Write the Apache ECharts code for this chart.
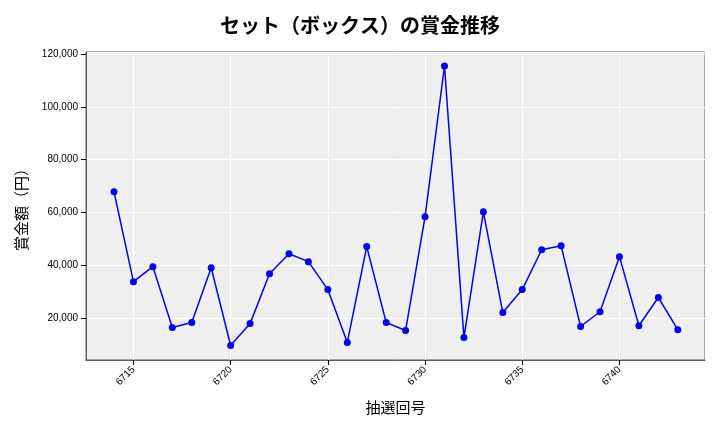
<!DOCTYPE html>
<html><head><meta charset="utf-8">
<script src="https://cdn.jsdelivr.net/npm/echarts@6/dist/echarts.min.js"></script>
<style>html,body{margin:0;padding:0;background:#fff}#c{width:720px;height:432px}</style>
</head><body><div id="c"></div>
<script>
const draws = [6714,6715,6716,6717,6718,6719,6720,6721,6722,6723,6724,6725,6726,6727,6728,6729,6730,6731,6732,6733,6734,6735,6736,6737,6738,6739,6740,6741,6742,6743];
const prizes = [67800,33700,39400,16300,18200,39000,9500,17800,36700,44300,41300,30700,10600,47000,18200,15200,58300,115500,12500,60200,22000,30700,45800,47300,16700,22300,43200,17000,27700,15500];
const chart = echarts.init(document.getElementById('c'));
const font = "'Noto Sans CJK JP', sans-serif";
chart.setOption({
  animation:false,
  title:{text:'セット（ボックス）の賞金推移',left:'center',top:10,textStyle:{fontFamily:font,fontSize:20,fontWeight:'bold',color:'#000'}},
  grid:{left:86,right:15,top:52,bottom:72,backgroundColor:'#efefef',show:true,borderColor:'#333',borderWidth:0.8},
  xAxis:{type:'value',min:6712.56,max:6744.4,splitNumber:6,name:'抽選回号',nameLocation:'middle',nameGap:40,
    nameTextStyle:{fontFamily:font,fontSize:15,color:'#000'},
    axisLine:{lineStyle:{color:'#333',width:0.8}},axisTick:{lineStyle:{color:'#000'}},
    axisLabel:{rotate:45,fontSize:10,color:'#000',showMinLabel:false,showMaxLabel:false,formatter:v=>String(v)},
    splitLine:{show:true,lineStyle:{color:'#fff',width:1}}},
  yAxis:{type:'value',min:4000,max:120800,name:'賞金額（円）',nameLocation:'middle',nameGap:57,
    nameTextStyle:{fontFamily:font,fontSize:15,color:'#000'},
    axisLine:{show:true,lineStyle:{color:'#333',width:0.8}},axisTick:{show:true,lineStyle:{color:'#000'}},
    axisLabel:{fontSize:10,color:'#000',showMinLabel:false,showMaxLabel:false,formatter:v=>v.toLocaleString('en-US')},
    splitLine:{show:true,lineStyle:{color:'#fff',width:1}}},
  series:[{type:'line',data:draws.map((d,i)=>[d,prizes[i]]),color:'#0000ee',symbol:'circle',symbolSize:7,
    lineStyle:{width:1.5,color:'#0000ee'},itemStyle:{color:'#0000ee'}}]
});
</script></body></html>
